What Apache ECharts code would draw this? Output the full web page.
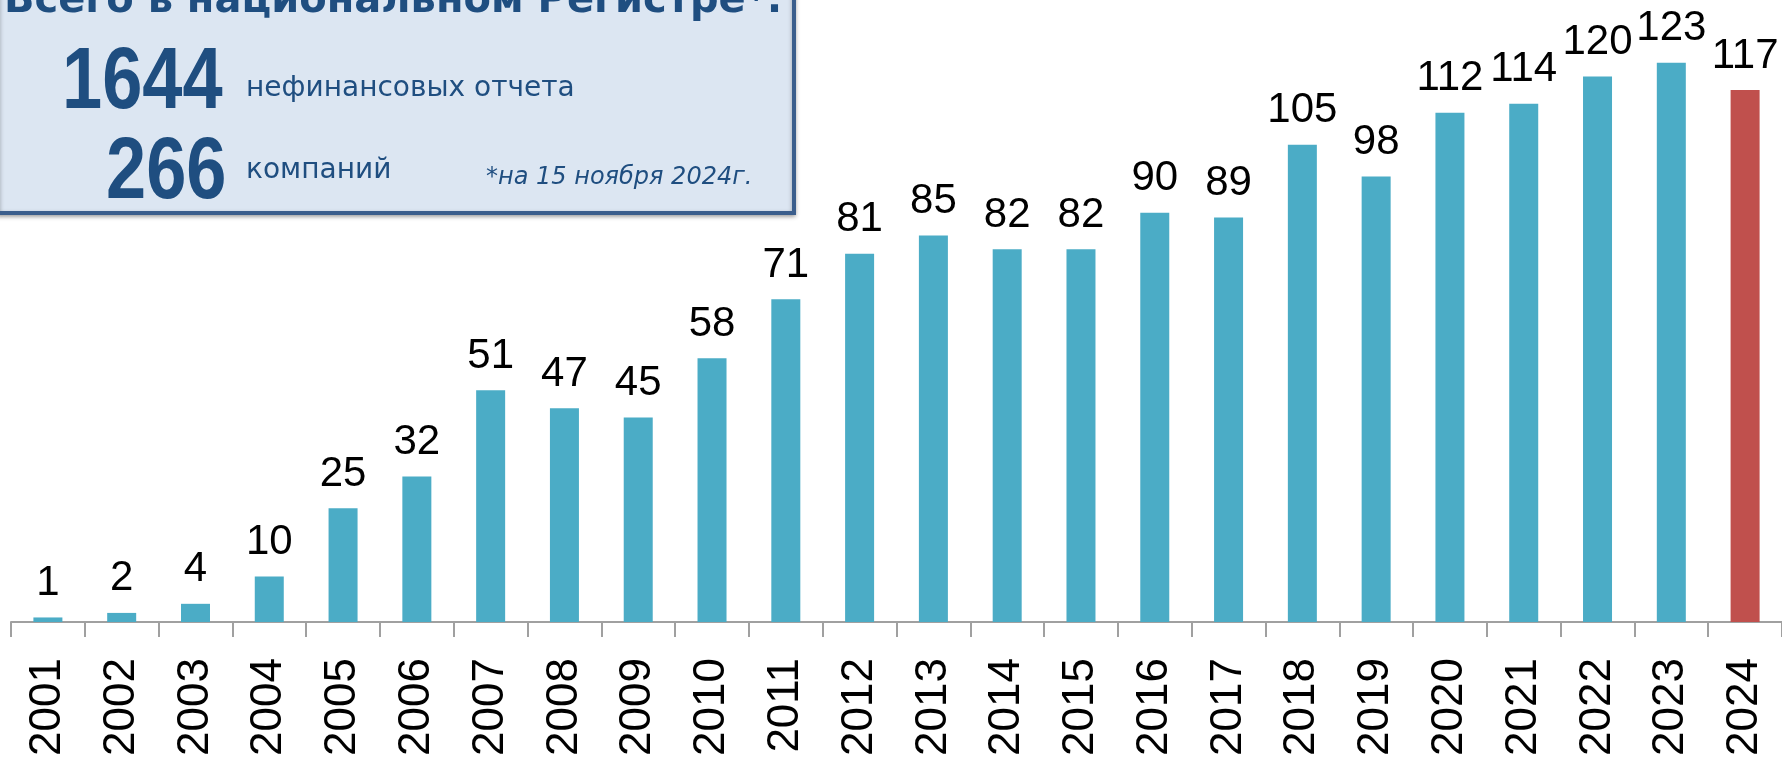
<!DOCTYPE html>
<html>
<head>
<meta charset="utf-8">
<script src="https://cdn.jsdelivr.net/npm/echarts@6/dist/echarts.min.js"></script>
<style>
    html, body { margin: 0; padding: 0; background: #fff; }
    #chart { width: 1782px; height: 761px; }
</style>
</head>
<body>
<div id="chart"></div>
<script type="text/javascript">
    // данные
    var years = ['2001','2002','2003','2004','2005','2006','2007','2008','2009','2010','2011','2012',
                 '2013','2014','2015','2016','2017','2018','2019','2020','2021','2022','2023','2024'];
    var reports = [1, 2, 4, 10, 25, 32, 51, 47, 45, 58, 71, 81, 85, 82, 82, 90, 89, 105, 98, 112, 114, 120, 123, 117];
    var highlightYear = '2024';

    var boxTitle = 'Всего в национальном Регистре*:';
    var totalReports = '1644';
    var totalReportsText = 'нефинансовых отчета';
    var totalCompanies = '266';
    var totalCompaniesText = 'компаний';
    var noteText = '*на 15 ноября 2024г.';

    var blue = '#4BACC6', red = '#C0504D', dark = '#1F4E80';

    var barData = [];
    for (var i = 0; i < reports.length; i++) {
        if (years[i] == highlightYear) {
            barData.push({ value: reports[i], itemStyle: { color: red } });
        } else {
            barData.push(reports[i]);
        }
    }

    var myChart = echarts.init(document.getElementById('chart'));
    var option = {
        animation: false,
        grid: { left: 11, right: 0, top: 31, bottom: 139, containLabel: false },
        xAxis: {
            type: 'category',
            data: years,
            boundaryGap: true,
            axisLine: { show: true, lineStyle: { color: '#a0a0a0', width: 2 } },
            axisTick: { show: true, interval: 0, length: 15, lineStyle: { color: '#a0a0a0', width: 2 } },
            axisLabel: {
                rotate: 90,
                interval: 0,
                margin: 36,
                color: '#000',
                fontSize: 44,
                fontFamily: 'Liberation Sans'
            }
        },
        yAxis: { type: 'value', min: 0, max: 130, show: false, splitLine: { show: false } },
        series: [{
            type: 'bar',
            data: barData,
            barWidth: 29,
            itemStyle: { color: blue },
            label: {
                show: true,
                position: 'top',
                distance: 13,
                color: '#000',
                fontSize: 42,
                fontFamily: 'Liberation Sans'
            }
        }],
        graphic: [
            {
                type: 'rect',
                left: -4, top: -12,
                shape: { width: 796, height: 223 },
                style: { fill: '#DCE6F2', stroke: '#3B5E8C', lineWidth: 4, shadowBlur: 4, shadowColor: 'rgba(0,0,0,0.3)', shadowOffsetY: 2 },
                z: 10
            },
            {
                type: 'text', left: 4, top: -18, z: 11,
                style: { text: boxTitle, fill: dark, font: 'bold 40px "DejaVu Sans"' }
            },
            {
                type: 'text', x: 62, y: 40, scaleX: 0.82, z: 11,
                style: { text: totalReports, fill: dark, font: 'bold 88px "Liberation Sans"' }
            },
            {
                type: 'text', left: 246, top: 75, z: 11,
                style: { text: totalReportsText, fill: dark, font: '28px "DejaVu Sans"' }
            },
            {
                type: 'text', x: 106, y: 130, scaleX: 0.82, z: 11,
                style: { text: totalCompanies, fill: dark, font: 'bold 88px "Liberation Sans"' }
            },
            {
                type: 'text', left: 246, top: 157, z: 11,
                style: { text: totalCompaniesText, fill: dark, font: '28px "DejaVu Sans"' }
            },
            {
                type: 'text', left: 486, top: 166, z: 11,
                style: { text: noteText, fill: dark, font: 'italic 24px "DejaVu Sans"' }
            }
        ]
    };
    myChart.setOption(option);
</script>
</body>
</html>
